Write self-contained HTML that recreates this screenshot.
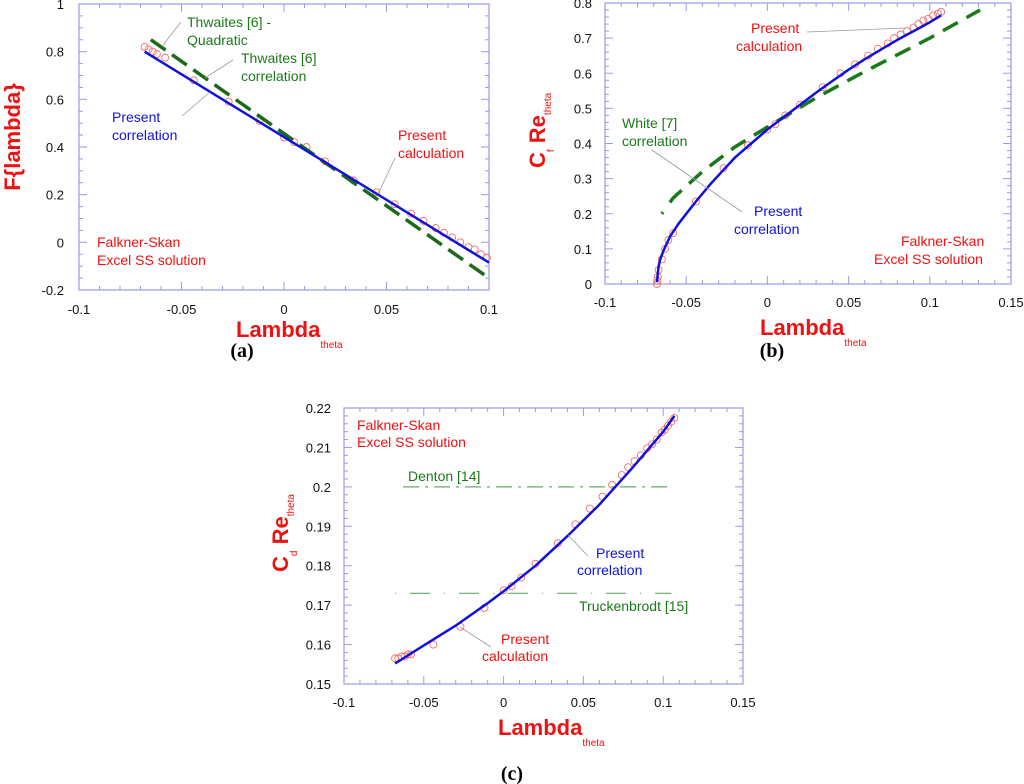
<!DOCTYPE html>
<html><head><meta charset="utf-8">
<style>
body{margin:0;background:#fff;}
svg{display:block;font-family:"Liberation Sans",sans-serif;}
</style></head>
<body>
<svg id="fig" width="1024" height="784" viewBox="0 0 1024 784">
<g id="ga"></g>
<g id="gb"></g>
<g id="gc"></g>
<text x="242" y="357" font-family="Liberation Serif" font-size="20" font-weight="bold" text-anchor="middle">(a)</text>
<text x="772" y="357" font-family="Liberation Serif" font-size="20" font-weight="bold" text-anchor="middle">(b)</text>
<text x="512" y="780" font-family="Liberation Serif" font-size="20" font-weight="bold" text-anchor="middle">(c)</text>
</svg>
<script>
// ---- Chart A data ----
const aCalcX=[-0.068,-0.066,-0.064,-0.062,-0.058,-0.044,-0.027,-0.012,0,0.005,0.011,0.02,0.034,0.045,0.054,0.062,0.068,0.074,0.078,0.082,0.086,0.09,0.093,0.096,0.099];
const aCalcY=[0.82,0.81,0.80,0.79,0.775,0.68,0.59,0.51,0.44,0.42,0.40,0.34,0.26,0.21,0.16,0.12,0.09,0.06,0.04,0.02,0.0,-0.02,-0.03,-0.05,-0.065];
const aCorrX=[-0.068,0.1];
const aCorrY=[0.80,-0.085];
const aThwX=[-0.065,0.1];
const aThwY=[0.85,-0.15];
const aXTicks=[-0.1,-0.05,0,0.05,0.1];
const aYTicks=[-0.2,0,0.2,0.4,0.6,0.8,1];
// ---- Chart B data ----
const bCalcX=[-0.068,-0.0678,-0.0675,-0.067,-0.065,-0.063,-0.061,-0.058,-0.044,-0.027,-0.012,0,0.005,0.011,0.02,0.034,0.045,0.054,0.062,0.068,0.074,0.078,0.082,0.086,0.09,0.093,0.096,0.099,0.102,0.105,0.107];
const bCalcY=[0.0,0.01,0.02,0.04,0.07,0.10,0.125,0.145,0.235,0.33,0.395,0.44,0.455,0.48,0.51,0.56,0.60,0.625,0.65,0.67,0.685,0.70,0.71,0.72,0.73,0.74,0.75,0.755,0.765,0.77,0.775];
const bCorrX=[-0.068,-0.0675,-0.067,-0.066,-0.064,-0.062,-0.06,-0.055,-0.05,-0.044,-0.035,-0.027,-0.02,-0.01,0,0.01,0.02,0.03,0.04,0.05,0.06,0.07,0.08,0.09,0.1,0.107];
const bCorrY=[0.005,0.03,0.05,0.07,0.095,0.115,0.135,0.17,0.20,0.235,0.285,0.325,0.36,0.40,0.44,0.475,0.51,0.545,0.578,0.61,0.64,0.668,0.695,0.72,0.745,0.765];
const bWhiteX=[-0.065,-0.058,-0.04,-0.02,0,0.03,0.06,0.1,0.131];
const bWhiteY=[0.20,0.245,0.32,0.39,0.447,0.53,0.605,0.70,0.78];
const bXTicks=[-0.1,-0.05,0,0.05,0.1,0.15];
const bYTicks=[0,0.1,0.2,0.3,0.4,0.5,0.6,0.7,0.8];
// ---- Chart C data ----
const cCalcX=[-0.068,-0.066,-0.064,-0.062,-0.06,-0.058,-0.044,-0.027,-0.012,0,0.005,0.011,0.02,0.034,0.045,0.054,0.062,0.068,0.074,0.078,0.082,0.086,0.09,0.093,0.096,0.099,0.101,0.103,0.105,0.107];
const cCalcY=[0.1565,0.1565,0.157,0.157,0.1575,0.1575,0.160,0.1645,0.1693,0.1738,0.1748,0.177,0.1805,0.1857,0.1905,0.1945,0.1975,0.2005,0.203,0.205,0.2065,0.208,0.2098,0.2108,0.212,0.2138,0.2145,0.2155,0.2165,0.2175];
const cCorrX=[-0.068,-0.05,-0.03,-0.01,0,0.02,0.04,0.06,0.08,0.1,0.107];
const cCorrY=[0.1552,0.1598,0.1648,0.1705,0.1735,0.1800,0.1875,0.1955,0.2045,0.2140,0.2180];
const cDentonX=[-0.063,0.105];
const cDentonY=[0.2,0.2];
const cTruckX=[-0.068,0.105];
const cTruckY=[0.173,0.173];
const cXTicks=[-0.1,-0.05,0,0.05,0.1,0.15];
const cYTicks=[0.15,0.16,0.17,0.18,0.19,0.2,0.21,0.22];

const NS="http://www.w3.org/2000/svg";
function mk(parent,tag,attrs,txt){const e=document.createElementNS(NS,tag);for(const k in attrs)e.setAttribute(k,attrs[k]);if(txt!==undefined)e.textContent=txt;parent.appendChild(e);return e;}
function scale(d0,d1,p0,p1){return v=>p0+(v-d0)/(d1-d0)*(p1-p0);}

function axes(g,sx,sy,box,xT,yT,xMinor,yMinor,fmtX,fmtY,xLabY,yLabX){
  const frame=mk(g,'rect',{x:box.x0,y:box.y0,width:box.x1-box.x0,height:box.y1-box.y0,fill:'none',stroke:'#9a9ae8','stroke-width':1.2});
  
  
  const tk=mk(g,'g',{stroke:'#9a9ae8','stroke-width':1});
  
  
  const xa=xT[0],xb=xT[xT.length-1],ya=yT[0],yb=yT[yT.length-1];
  const nx=Math.round((xb-xa)/xMinor),ny=Math.round((yb-ya)/yMinor);
  const perX=Math.round((xT[1]-xT[0])/xMinor),perY=Math.round((yT[1]-yT[0])/yMinor);
  for(let i=0;i<=nx;i++){const x=sx(xa+i*xMinor);const L=i%perX===0?8:4;
    mk(tk,'line',{x1:x,y1:box.y1,x2:x,y2:box.y1-L});mk(tk,'line',{x1:x,y1:box.y0,x2:x,y2:box.y0+L});}
  for(let i=0;i<=ny;i++){const y=sy(ya+i*yMinor);const L=i%perY===0?8:4;
    mk(tk,'line',{x1:box.x0,y1:y,x2:box.x0+L,y2:y});mk(tk,'line',{x1:box.x1,y1:y,x2:box.x1-L,y2:y});}
  xT.forEach(v=>{const t=mk(g,'text',{x:sx(v),y:xLabY,'font-size':13,'text-anchor':'middle',fill:'#111'},fmtX(v));
    });
  yT.forEach(v=>{const t=mk(g,'text',{x:yLabX,y:sy(v)+5,'font-size':13,'text-anchor':'end',fill:'#111'},fmtY(v));
    });
}
function line(g,sx,sy,X,Y,attrs,name){
  const pts=X.map((x,i)=>sx(x).toFixed(1)+','+sy(Y[i]).toFixed(1)).join(' ');
  const p=mk(g,'polyline',Object.assign({points:pts,fill:'none','stroke-linejoin':'round'},attrs));
  
}
function circles(g,sx,sy,X,Y,name){
  const gg=mk(g,'g',{fill:'none',stroke:'#f07070','stroke-width':0.9});
  
  X.forEach((x,i)=>{const c=mk(gg,'circle',{cx:sx(x),cy:sy(Y[i]),r:3.5});
    });
}
function txt(g,x,y,s,col,name,size){const t=mk(g,'text',{x:x,y:y,'font-size':size||14,fill:col},s);
  return t;}
function lead(g,x1,y1,x2,y2){const l=mk(g,'line',{x1,y1,x2,y2,stroke:'#999','stroke-width':0.8});
  }
const f1=v=>String(+v.toFixed(2));
const RED='#ee1111',BLUE='#1111dd',GREEN='#1a7a1a';

// ---------- Chart A ----------
(function(){
const g=document.getElementById('ga');
const box={x0:79,x1:489,y0:4,y1:290};
const sx=scale(-0.1,0.1,box.x0,box.x1),sy=scale(-0.2,1,box.y1,box.y0);
axes(g,sx,sy,box,aXTicks,aYTicks,0.01,0.05,f1,f1,314,64);
circles(g,sx,sy,aCalcX,aCalcY,'present-calculation-points');
line(g,sx,sy,aThwX,aThwY,{stroke:'#1a6a1a','stroke-width':3.5,'stroke-dasharray':'18,8'},'thwaites-line');
line(g,sx,sy,aCorrX,aCorrY,{stroke:BLUE,'stroke-width':2.5},'present-correlation-line');
txt(g,187,27,'Thwaites [6] -',GREEN,'thwaites-quadratic-label');
txt(g,187,45,'Quadratic',GREEN,'thwaites-quadratic-label-2');
txt(g,241,63,'Thwaites [6]',GREEN,'thwaites-correlation-label');
txt(g,241,81,'correlation',GREEN,'thwaites-correlation-label-2');
txt(g,112,122,'Present',BLUE,'present-correlation-label');
txt(g,112,140,'correlation',BLUE,'present-correlation-label-2');
txt(g,398,140,'Present',RED,'present-calculation-label');
txt(g,398,158,'calculation',RED,'present-calculation-label-2');
txt(g,97,247,'Falkner-Skan',RED,'falkner-skan-label');
txt(g,97,265,'Excel SS solution',RED,'falkner-skan-label-2');
lead(g,181,22,163,45);lead(g,233,60,205,78);lead(g,182,116,210,92);lead(g,395,158,378,194);
const xt=mk(g,'text',{x:236,y:337,'font-size':22,'font-weight':'bold',fill:RED});

xt.innerHTML='Lambda<tspan font-size="10" font-weight="normal" dy="11">theta</tspan>';
const yt=mk(g,'text',{x:0,y:0,'font-size':22,'font-weight':'bold',fill:RED,'text-anchor':'middle',transform:'translate(20,137) rotate(-90)'},'F{lambda}');

})();

// ---------- Chart B ----------
(function(){
const g=document.getElementById('gb');
const box={x0:605,x1:1011,y0:3,y1:284};
const sx=scale(-0.1,0.15,box.x0,box.x1),sy=scale(0,0.8,box.y1,box.y0);
axes(g,sx,sy,box,bXTicks,bYTicks,0.01,0.02,f1,f1,307,592);
circles(g,sx,sy,bCalcX,bCalcY,'present-calculation-points');
line(g,sx,sy,bWhiteX,bWhiteY,{stroke:'#1a7a1a','stroke-width':3.5,'stroke-dasharray':'2,12,17,10,17,10,17,10,17,10,17,10,17,10,17,10,17,10,17,10,17,10,17,10,17,10,17,10,17,10,17,10,17,10,17,10,17,10,17,10,17,10,17,10,17,10'},'white-correlation-line');
line(g,sx,sy,bCorrX,bCorrY,{stroke:BLUE,'stroke-width':2.5},'present-correlation-line');
txt(g,751,33,'Present',RED,'present-calculation-label');
txt(g,736,51,'calculation',RED,'present-calculation-label-2');
txt(g,622,128,'White [7]',GREEN,'white-correlation-label');
txt(g,622,146,'correlation',GREEN,'white-correlation-label-2');
txt(g,754,216,'Present',BLUE,'present-correlation-label');
txt(g,734,234,'correlation',BLUE,'present-correlation-label-2');
txt(g,901,246,'Falkner-Skan',RED,'falkner-skan-label');
txt(g,874,264,'Excel SS  solution',RED,'falkner-skan-label-2');
lead(g,807,32,905,28);lead(g,652,150,742,212);
const xt=mk(g,'text',{x:760,y:335,'font-size':22,'font-weight':'bold',fill:RED});

xt.innerHTML='Lambda<tspan font-size="10" font-weight="normal" dy="11">theta</tspan>';
const yt=mk(g,'text',{x:0,y:0,'font-size':22,'font-weight':'bold',fill:RED,transform:'translate(545,168) rotate(-90)'});

yt.innerHTML='C<tspan font-size="10" font-weight="normal" dy="9">f</tspan><tspan dy="-9"> Re</tspan><tspan font-size="10" font-weight="normal" dy="6">theta</tspan>';
})();

// ---------- Chart C ----------
(function(){
const g=document.getElementById('gc');
const box={x0:344,x1:743,y0:408,y1:684};
const sx=scale(-0.1,0.15,box.x0,box.x1),sy=scale(0.15,0.22,box.y1,box.y0);
axes(g,sx,sy,box,cXTicks,cYTicks,0.01,0.002,f1,v=>String(+v.toFixed(2)),707,331);
line(g,sx,sy,cDentonX,cDentonY,{stroke:'#6aa86a','stroke-width':1.2,'stroke-dasharray':'16,6,3,6'},'denton-line');
line(g,sx,sy,cTruckX,cTruckY,{stroke:'#6aa86a','stroke-width':1.2,'stroke-dasharray':'1,14,20,14'},'truckenbrodt-line');
circles(g,sx,sy,cCalcX,cCalcY,'present-calculation-points');
line(g,sx,sy,cCorrX,cCorrY,{stroke:BLUE,'stroke-width':2.5},'present-correlation-line');
txt(g,357,430,'Falkner-Skan',RED,'falkner-skan-label');
txt(g,357,447,'Excel SS solution',RED,'falkner-skan-label-2');
txt(g,408,481,'Denton [14]',GREEN,'denton-label');
txt(g,596,558,'Present',BLUE,'present-correlation-label');
txt(g,577,575,'correlation',BLUE,'present-correlation-label-2');
txt(g,579,611,'Truckenbrodt [15]',GREEN,'truckenbrodt-label');
txt(g,501,644,'Present',RED,'present-calculation-label');
txt(g,482,661,'calculation',RED,'present-calculation-label-2');
lead(g,568,535,588,556);lead(g,460,627,491,647);
const xt=mk(g,'text',{x:498,y:735,'font-size':22,'font-weight':'bold',fill:RED});

xt.innerHTML='Lambda<tspan font-size="10" font-weight="normal" dy="11">theta</tspan>';
const yt=mk(g,'text',{x:0,y:0,'font-size':22,'font-weight':'bold',fill:RED,transform:'translate(288,572) rotate(-90)'});

yt.innerHTML='C<tspan font-size="10" font-weight="normal" dy="9">d</tspan><tspan dy="-9"> Re</tspan><tspan font-size="10" font-weight="normal" dy="6">theta</tspan>';
})();
</script>
</body></html>
